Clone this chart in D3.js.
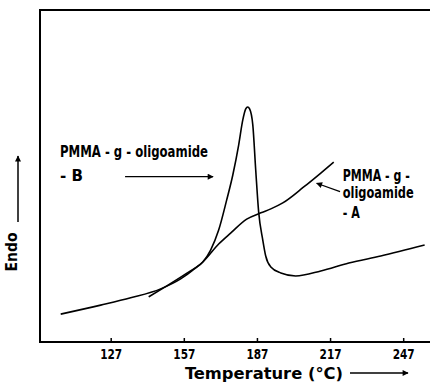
<!DOCTYPE html>
<html lang="en">
<head>
    <meta charset="UTF-8">
    <title>DSC - PMMA-g-oligoamide</title>
    <script src="https://d3js.org/d3.v7.min.js"></script>
    <style>
        body{
            margin: 0;
            background-color: white;
        }
        svg text{
            font-family: "DejaVu Sans Condensed", "DejaVu Sans", sans-serif;
            font-weight: bold;
            fill: black;
        }
        path.curve{
            fill: none;
            stroke: black;
            stroke-width: 1.6px;
        }
    </style>
</head>
<body>
<svg id="canvas" width="430" height="389"></svg>
<script>
    // curve B (sharp melting peak), temperature in C and endo signal (arbitrary units 0-100)
    let tempB = [106.5, 122.9, 135.2, 147.5, 155.7, 161.9, 164.8, 168.0, 171.3, 174.6, 177.1, 179.5,
                 181.2, 182.4, 183.2, 184.0, 185.3, 186.5, 187.7, 189.4, 190.6, 192.7, 196.8, 202.9,
                 213.2, 224.7, 237.8, 255.8];
    let endoB = [8.4, 11.1, 13.3, 16.0, 19.0, 22.3, 24.1, 27.7, 33.7, 42.8, 50.3, 59.3,
                 66.9, 70.2, 70.8, 70.2, 65.4, 51.8, 39.2, 30.7, 25.9, 22.6, 20.8, 19.9,
                 21.4, 23.8, 25.9, 29.2];
    // curve A (broad shoulder)
    let tempA = [142.6, 148.7, 157.8, 164.8, 171.3, 176.2, 182.8, 188.6, 192.7, 197.6, 206.2, 213.2, 218.5];
    let endoA = [13.6, 16.3, 20.5, 24.1, 29.5, 32.8, 37.0, 38.9, 40.1, 41.9, 46.7, 50.9, 54.2];
    let tickValues = [127, 157, 187, 217, 247];

    let svg = d3.select('svg');
    let mLeft = 40, mRight = 430, mTop = 10, mBottom = 342;

    let x = d3.scaleLinear().domain([98, 258]).range([mLeft, mRight]);
    let y = d3.scaleLinear().domain([0, 100]).range([mBottom, mTop]);

    // arrow head marker
    svg.append('defs').append('marker')
        .attr('id', 'head')
        .attr('viewBox', '0 0 10 10')
        .attr('refX', 9).attr('refY', 5)
        .attr('markerWidth', 7).attr('markerHeight', 6)
        .attr('markerUnits', 'userSpaceOnUse')
        .attr('orient', 'auto')
        .append('path')
        .attr('d', 'M0,0L10,5L0,10Z')
        .attr('fill', 'black');

    // frame: top, left, bottom (no right border)
    svg.append('path')
        .attr('d', `M${mRight},${mTop}H${mLeft}V${mBottom}H${mRight}`)
        .attr('fill', 'none')
        .attr('stroke', 'black')
        .attr('stroke-width', 2);

    // x axis ticks pointing inwards
    let xAxis = d3.axisBottom(x)
        .tickValues(tickValues)
        .tickSizeInner(-4)
        .tickSizeOuter(0)
        .tickPadding(7)
        .tickFormat(d3.format('d'));
    let gx = svg.append('g')
        .attr('transform', `translate(0,${mBottom})`)
        .call(xAxis);
    gx.select('.domain').remove();
    gx.selectAll('.tick line').attr('stroke-width', 1.5);
    gx.selectAll('.tick text')
        .attr('font-size', 13.5)
        .attr('font-family', null)
        .attr('textLength', 22)
        .attr('lengthAdjust', 'spacingAndGlyphs');

    // curves
    let line = d3.line()
        .x(d => x(d[0]))
        .y(d => y(d[1]))
        .curve(d3.curveMonotoneX);
    svg.append('path')
        .attr('class', 'curve')
        .attr('d', line(d3.zip(tempB, endoB)));
    svg.append('path')
        .attr('class', 'curve')
        .attr('d', line(d3.zip(tempA, endoA)));

    // annotation for B
    svg.append('text')
        .attr('x', x(106.2)).attr('y', y(55.8))
        .attr('font-size', 15)
        .attr('textLength', 148)
        .attr('lengthAdjust', 'spacingAndGlyphs')
        .text('PMMA - g - oligoamide');
    svg.append('text')
        .attr('x', x(106.2)).attr('y', y(48.5))
        .attr('font-size', 15)
        .attr('textLength', 23)
        .attr('lengthAdjust', 'spacingAndGlyphs')
        .text('- B');
    svg.append('line')
        .attr('x1', x(132.9)).attr('y1', y(49.8))
        .attr('x2', x(169.0)).attr('y2', y(49.8))
        .attr('stroke', 'black').attr('stroke-width', 1.2)
        .attr('marker-end', 'url(#head)');

    // annotation for A
    let labelA = ['PMMA - g -', 'oligoamide', '- A'];
    let labelAy = [48.6, 43.3, 37.3];
    let labelAw = [67, 71, 17];
    svg.selectAll('text.labA')
        .data(labelA)
        .enter()
        .append('text')
        .attr('class', 'labA')
        .attr('x', x(222.2))
        .attr('y', (d, i) => y(labelAy[i]))
        .attr('font-size', 15)
        .attr('textLength', (d, i) => labelAw[i])
        .attr('lengthAdjust', 'spacingAndGlyphs')
        .text(d => d);
    svg.append('line')
        .attr('x1', x(221.1)).attr('y1', y(45.3))
        .attr('x2', x(211.5)).attr('y2', y(47.8))
        .attr('stroke', 'black').attr('stroke-width', 1.2)
        .attr('marker-end', 'url(#head)');

    // y axis title with upward arrow
    svg.append('text')
        .attr('transform', 'translate(17,252) rotate(-90)')
        .attr('text-anchor', 'middle')
        .attr('font-size', 16)
        .attr('textLength', 39)
        .attr('lengthAdjust', 'spacingAndGlyphs')
        .text('Endo');
    svg.append('line')
        .attr('x1', 18).attr('y1', 222)
        .attr('x2', 18).attr('y2', 156)
        .attr('stroke', 'black').attr('stroke-width', 1.5)
        .attr('marker-end', 'url(#head)');

    // x axis title with rightward arrow
    svg.append('text')
        .attr('x', 185).attr('y', 379)
        .attr('font-size', 16)
        .attr('textLength', 158)
        .attr('lengthAdjust', 'spacingAndGlyphs')
        .text('Temperature (°C)');
    svg.append('line')
        .attr('x1', 350).attr('y1', 373)
        .attr('x2', 408).attr('y2', 373)
        .attr('stroke', 'black').attr('stroke-width', 1.5)
        .attr('marker-end', 'url(#head)');
</script>
</body>
</html>
